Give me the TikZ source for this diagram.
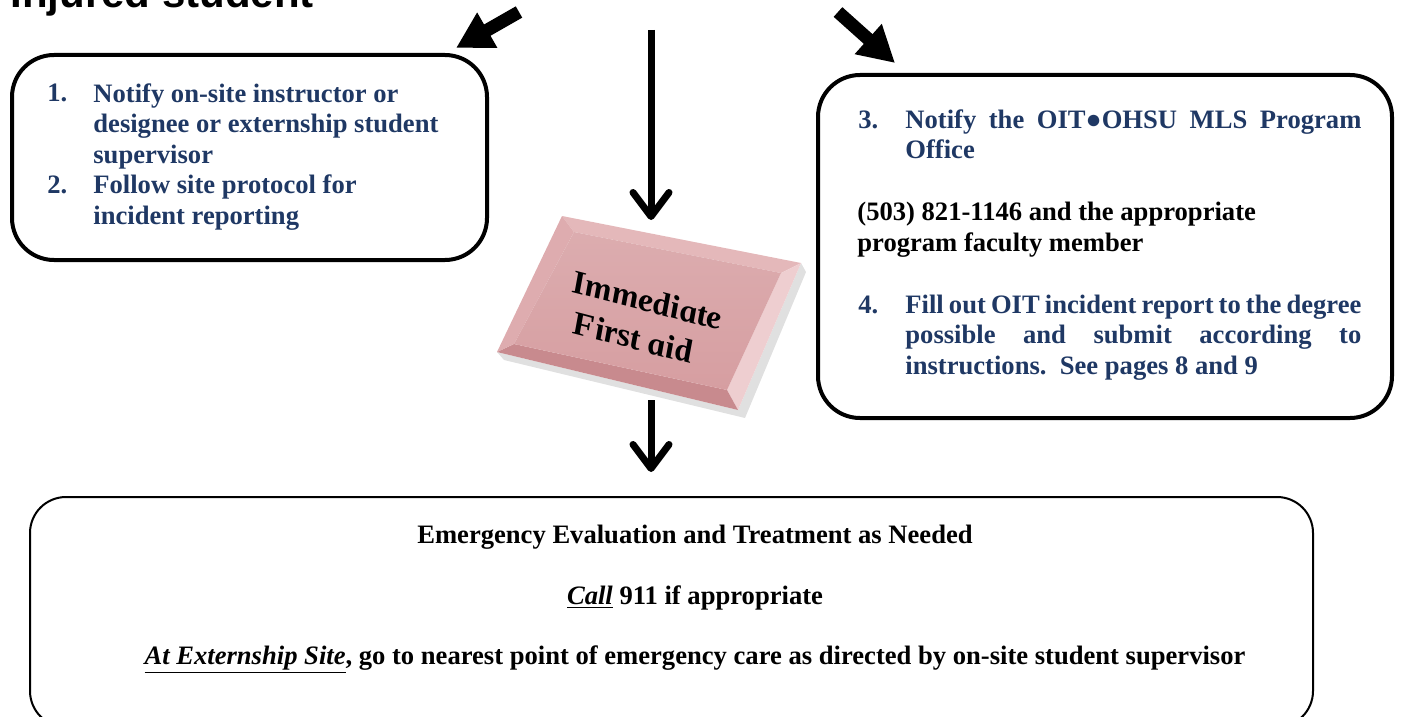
\documentclass[tikz,border=0pt]{standalone}
\usepackage{fontspec}
\setmainfont{Liberation Serif}
\newfontfamily\headfont{Liberation Sans}
\usetikzlibrary{arrows.meta}
\definecolor{navy}{RGB}{31,56,100}
\definecolor{tileface}{RGB}{214,158,161}
\definecolor{tiletop}{RGB}{228,184,186}
\definecolor{tileleft}{RGB}{222,172,175}
\definecolor{tileright}{RGB}{238,206,208}
\definecolor{tilebottom}{RGB}{200,138,142}

\begin{document}
\begin{tikzpicture}[x=0.5pt, y=-0.5pt,
	roundbox/.style={draw, line width=2pt, rounded corners=21pt},
	bigarrow/.style={line width=6.5pt, -{Triangle[length=18pt,width=19pt]}},
	downarrow/.style={line width=3.5pt, -{Straight Barb[length=12pt,width=18pt,round]}},
	steptext/.style={font=\fontsize{13.3}{15.25}\selectfont\bfseries, text=navy, inner sep=0pt, align=left},
	evaltext/.style={font=\fontsize{13.3}{15.25}\selectfont\bfseries, inner sep=0pt}]
	\useasboundingbox (0,0) rectangle (1408,717);

	% heading, cut by the top edge
	\node[font=\headfont\bfseries\fontsize{21}{25}\selectfont, anchor=base west, inner sep=0pt] (title) at (10,8) {Injured student};

	% arrows from the heading
	\coordinate (lstart) at (519,12);
	\coordinate (ltip) at (456,48);
	\coordinate (rstart) at (838,12);
	\coordinate (rtip) at (895,63);
	\coordinate (cstart) at (651,30);
	\coordinate (ctip) at (651,220);
	\coordinate (bstart) at (651,400);
	\coordinate (btip) at (651,472);
	\draw[bigarrow] (lstart) -- (ltip);
	\draw[bigarrow] (rstart) -- (rtip);
	\draw[downarrow] (cstart) -- (ctip);
	\draw[downarrow] (bstart) -- (btip);

	% left box (multi-line nodes sit on their last baseline)
	\draw[roundbox] (12,55) rectangle (487,260);
	\node[steptext, anchor=base west] (n1) at (47,102) {1.};
	\node[steptext, anchor=base west] (s1) at (93,163) {Notify on-site instructor or\\designee or externship student\\supervisor};
	\node[steptext, anchor=base west] (n2) at (47,193) {2.};
	\node[steptext, anchor=base west] (s2) at (93,224) {Follow site protocol for\\incident reporting};

	% right box
	\draw[roundbox] (818,75) rectangle (1392,418);
	\node[steptext, anchor=base west] (n3) at (858,128) {3.};
	\node[steptext, anchor=base west] (s3) at (905,159) {\makebox[228pt][s]{Notify the OIT●OHSU MLS Program}\\Office};
	\node[steptext, text=black, anchor=base west] (phone) at (857,251) {(503) 821-1146 and the appropriate\\program faculty member};
	\node[steptext, anchor=base west] (n4) at (858,313) {4.};
	\node[steptext, anchor=base west] (s4) at (905,374) {\makebox[228pt][s]{Fill out OIT incident report to the degree}\\\makebox[228pt][s]{possible and submit according to}\\instructions.\ \ See pages 8 and 9};

	% first aid tile
	\coordinate (tA) at (562,216);
	\coordinate (tB) at (801,263);
	\coordinate (tC) at (738,410);
	\coordinate (tD) at (497,352);
	\coordinate (ta) at (574,232);
	\coordinate (tb) at (781,273);
	\coordinate (tc) at (727,390);
	\coordinate (td) at (514,344);
	\fill[black!35, opacity=.35] (504,360) -- (745,418) -- (806,272) -- (801,263) -- (738,410) -- (497,352) -- cycle;
	\fill[tiletop] (tA) -- (tB) -- (tb) -- (ta) -- cycle;
	\fill[tileright] (tB) -- (tC) -- (tc) -- (tb) -- cycle;
	\fill[tilebottom] (tC) -- (tD) -- (td) -- (tc) -- cycle;
	\fill[tileleft] (tD) -- (tA) -- (ta) -- (td) -- cycle;
	\shade[top color=tileface!85!white, bottom color=tileface] (ta) -- (tb) -- (tc) -- (td) -- cycle;
	\node[font=\fontsize{17}{20.5}\selectfont\bfseries\itshape, align=left, inner sep=0pt, anchor=base west, yslant=-0.26] (aid) at (572,333) {Immediate\\First aid};

	% bottom box
	\draw[line width=1pt, rounded corners=18pt] (30,497) rectangle (1313,727);
	\node[evaltext, anchor=base] (eval) at (695,543) {Emergency Evaluation and Treatment as Needed};
	\node[evaltext, anchor=base] (call) at (695,604) {\underline{\textit{Call}} 911 if appropriate};
	\node[evaltext, anchor=base] (site) at (695,664) {\underline{\textit{At Externship Site}}, go to nearest point of emergency care as directed by on-site student supervisor};
\end{tikzpicture}
\end{document}
